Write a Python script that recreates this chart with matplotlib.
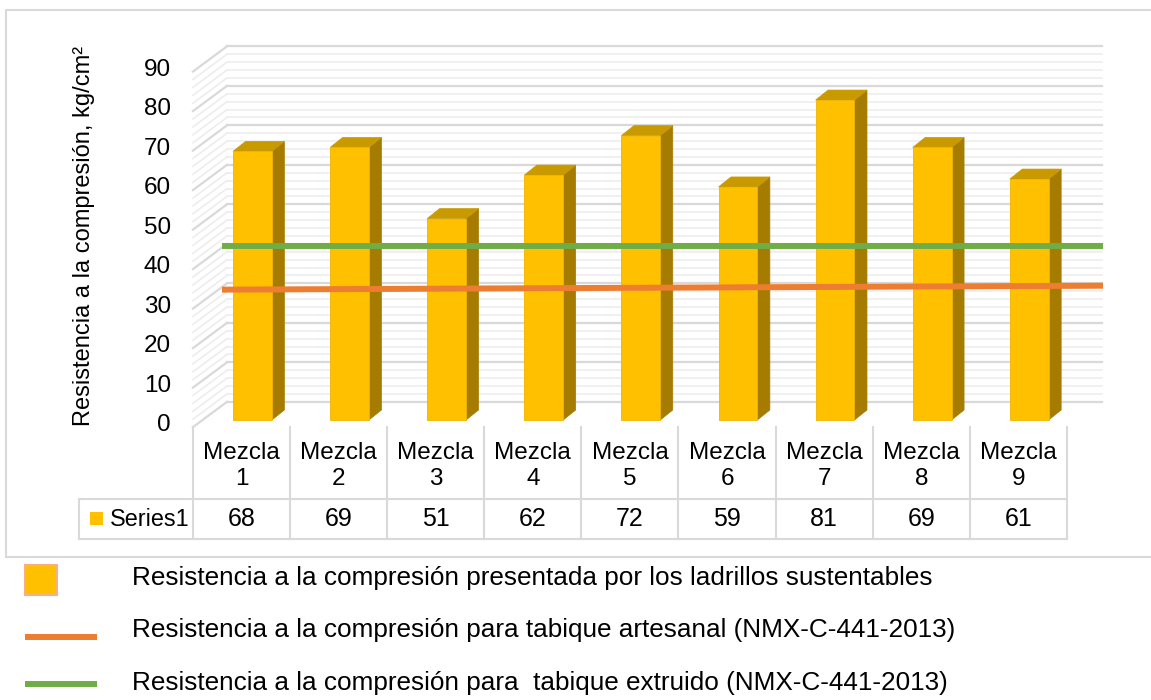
import matplotlib
matplotlib.use("Agg")
import matplotlib.pyplot as plt
from matplotlib.patches import Polygon, Rectangle
from matplotlib.lines import Line2D

plt.rcParams['font.family'] = ['Liberation Sans', 'DejaVu Sans']

# ---- data ----
categories = ["Mezcla\n1", "Mezcla\n2", "Mezcla\n3", "Mezcla\n4", "Mezcla\n5",
              "Mezcla\n6", "Mezcla\n7", "Mezcla\n8", "Mezcla\n9"]
values = [68, 69, 51, 62, 72, 59, 81, 69, 61]
series_name = "Series1"
yticks = [0, 10, 20, 30, 40, 50, 60, 70, 80, 90]
artesanal = [33, 34]      # left end, right end
extruido = [44, 44]
ylabel = "Resistencia a la compresión, kg/cm²"
legend_labels = [
    "Resistencia a la compresión presentada por los ladrillos sustentables",
    "Resistencia a la compresión para tabique artesanal (NMX-C-441-2013)",
    "Resistencia a la compresión para  tabique extruido (NMX-C-441-2013)",
]

# ---- colours / style ----
C_FRONT = "#FFC000"
C_SIDE = "#A67C00"
C_TOP = "#C99A00"
C_ORANGE = "#ED7D31"
C_GREEN = "#70AD47"
C_MAJOR = "#D9D9D9"
C_MINOR = "#EDEDED"
C_TABLE = "#D9D9D9"

W, H = 1151, 700
fig = plt.figure(figsize=(W / 100, H / 100), dpi=100)
ax = fig.add_axes([0, 0, 1, 1])
# data coords: x = category index, y = value (bar plane)
X0, XS = 241.5, 97.1
Y0, YS = 420.0, 3.95
ax.set_xlim((0 - X0) / XS, (W - X0) / XS)
ax.set_ylim((Y0 - H) / YS, Y0 / YS)
ax.axis("off")

def py(p):  # pixel-from-top to data y
    return (Y0 - p) / YS

def px(p):
    return (p - X0) / XS

# frame (right side runs off the image)
fig.patches.append(Line2D([6 / W, 6 / W, 1.01], [1 - 557 / H, 1 - 10 / H, 1 - 10 / H],
                          transform=fig.transFigure, color="#D9D9D9", lw=1.5))
fig.patches.append(Line2D([6 / W, 1.01], [1 - 557 / H, 1 - 557 / H],
                          transform=fig.transFigure, color="#D9D9D9", lw=1.5))

# ---- walls ----
front_x, back_x, right_x = -0.5, px(227), px(1102)
front_off, back_off = -1.8, 4.6
for v in range(0, 91, 2):
    major = v % 10 == 0
    col = C_MAJOR if major else C_MINOR
    lw = 1.6 if major else 1.2
    ax.plot([back_x, right_x], [v + back_off, v + back_off], color=col, lw=lw, zorder=1)
    ax.plot([front_x, back_x], [v + front_off, v + back_off], color=col, lw=lw, zorder=1)

# ---- bars ----
bw, bdx, bdy, boff = 0.40, 0.129, 2.53, -0.0875
for i, v in enumerate(values):
    l = i + boff
    r = l + bw
    ax.add_patch(Polygon([(r, 0), (r + bdx, bdy), (r + bdx, v + bdy), (r, v)],
                         closed=True, fc=C_SIDE, ec=C_SIDE, lw=0.5, zorder=3))
    ax.add_patch(Polygon([(l, v), (r, v), (r + bdx, v + bdy), (l + bdx, v + bdy)],
                         closed=True, fc=C_TOP, ec=C_TOP, lw=0.5, zorder=3))
    ax.add_patch(Rectangle((l, 0), bw, v, fc=C_FRONT, ec="#F0B400", lw=0.6, zorder=4))

# ---- reference lines ----
line_x = [px(222), px(1103)]
ax.plot(line_x, artesanal, color=C_ORANGE, lw=4.3, solid_capstyle="butt", zorder=6)
ax.plot(line_x, extruido, color=C_GREEN, lw=4.3, solid_capstyle="butt", zorder=6)

# ---- y tick labels & label ----
for t in yticks:
    ax.text(px(171), t - 1.3, str(t), ha="right", va="center", fontsize=17.5, color="#000000")
ax.text(px(84), py(236), ylabel, rotation=90, ha="center", va="center", fontsize=17)

# ---- data table ----
n = len(categories)
yt_top, yt_mid, yt_bot = py(427), py(499), py(539)
tx_left = px(79)
for k in range(n + 1):
    xk = k - 0.5
    ax.plot([xk, xk], [yt_top, yt_bot], color=C_TABLE, lw=1.5, zorder=2)
ax.plot([tx_left, n - 0.5], [yt_mid, yt_mid], color=C_TABLE, lw=1.5)
ax.plot([tx_left, n - 0.5], [yt_bot, yt_bot], color=C_TABLE, lw=1.5)
ax.plot([tx_left, tx_left], [yt_mid, yt_bot], color=C_TABLE, lw=1.5)
for i, (c, v) in enumerate(zip(categories, values)):
    ax.text(i, py(466), c, ha="center", va="center", fontsize=17.5, linespacing=1.28)
    ax.text(i, py(519), str(v), ha="center", va="center", fontsize=18)
ax.add_patch(Rectangle((px(90), py(525)), px(103) - px(90), py(512) - py(525),
                       fc=C_FRONT, ec="none"))
ax.text(px(110), py(519), series_name, ha="left", va="center", fontsize=16.8)

# ---- legend below ----
ax.add_patch(Rectangle((px(25), py(595)), px(57) - px(25), py(565) - py(595),
                       fc=C_FRONT, ec="#F4B183", lw=1.5))
ax.plot([px(25), px(97)], [py(637), py(637)], color=C_ORANGE, lw=4.3, solid_capstyle="butt")
ax.plot([px(25), px(97)], [py(684), py(684)], color=C_GREEN, lw=4.3, solid_capstyle="butt")
for lab, yy in zip(legend_labels, [578, 630, 683]):
    ax.text(px(132), py(yy), lab, ha="left", va="center", fontsize=18.8)

fig.savefig("out.png", dpi=100)
